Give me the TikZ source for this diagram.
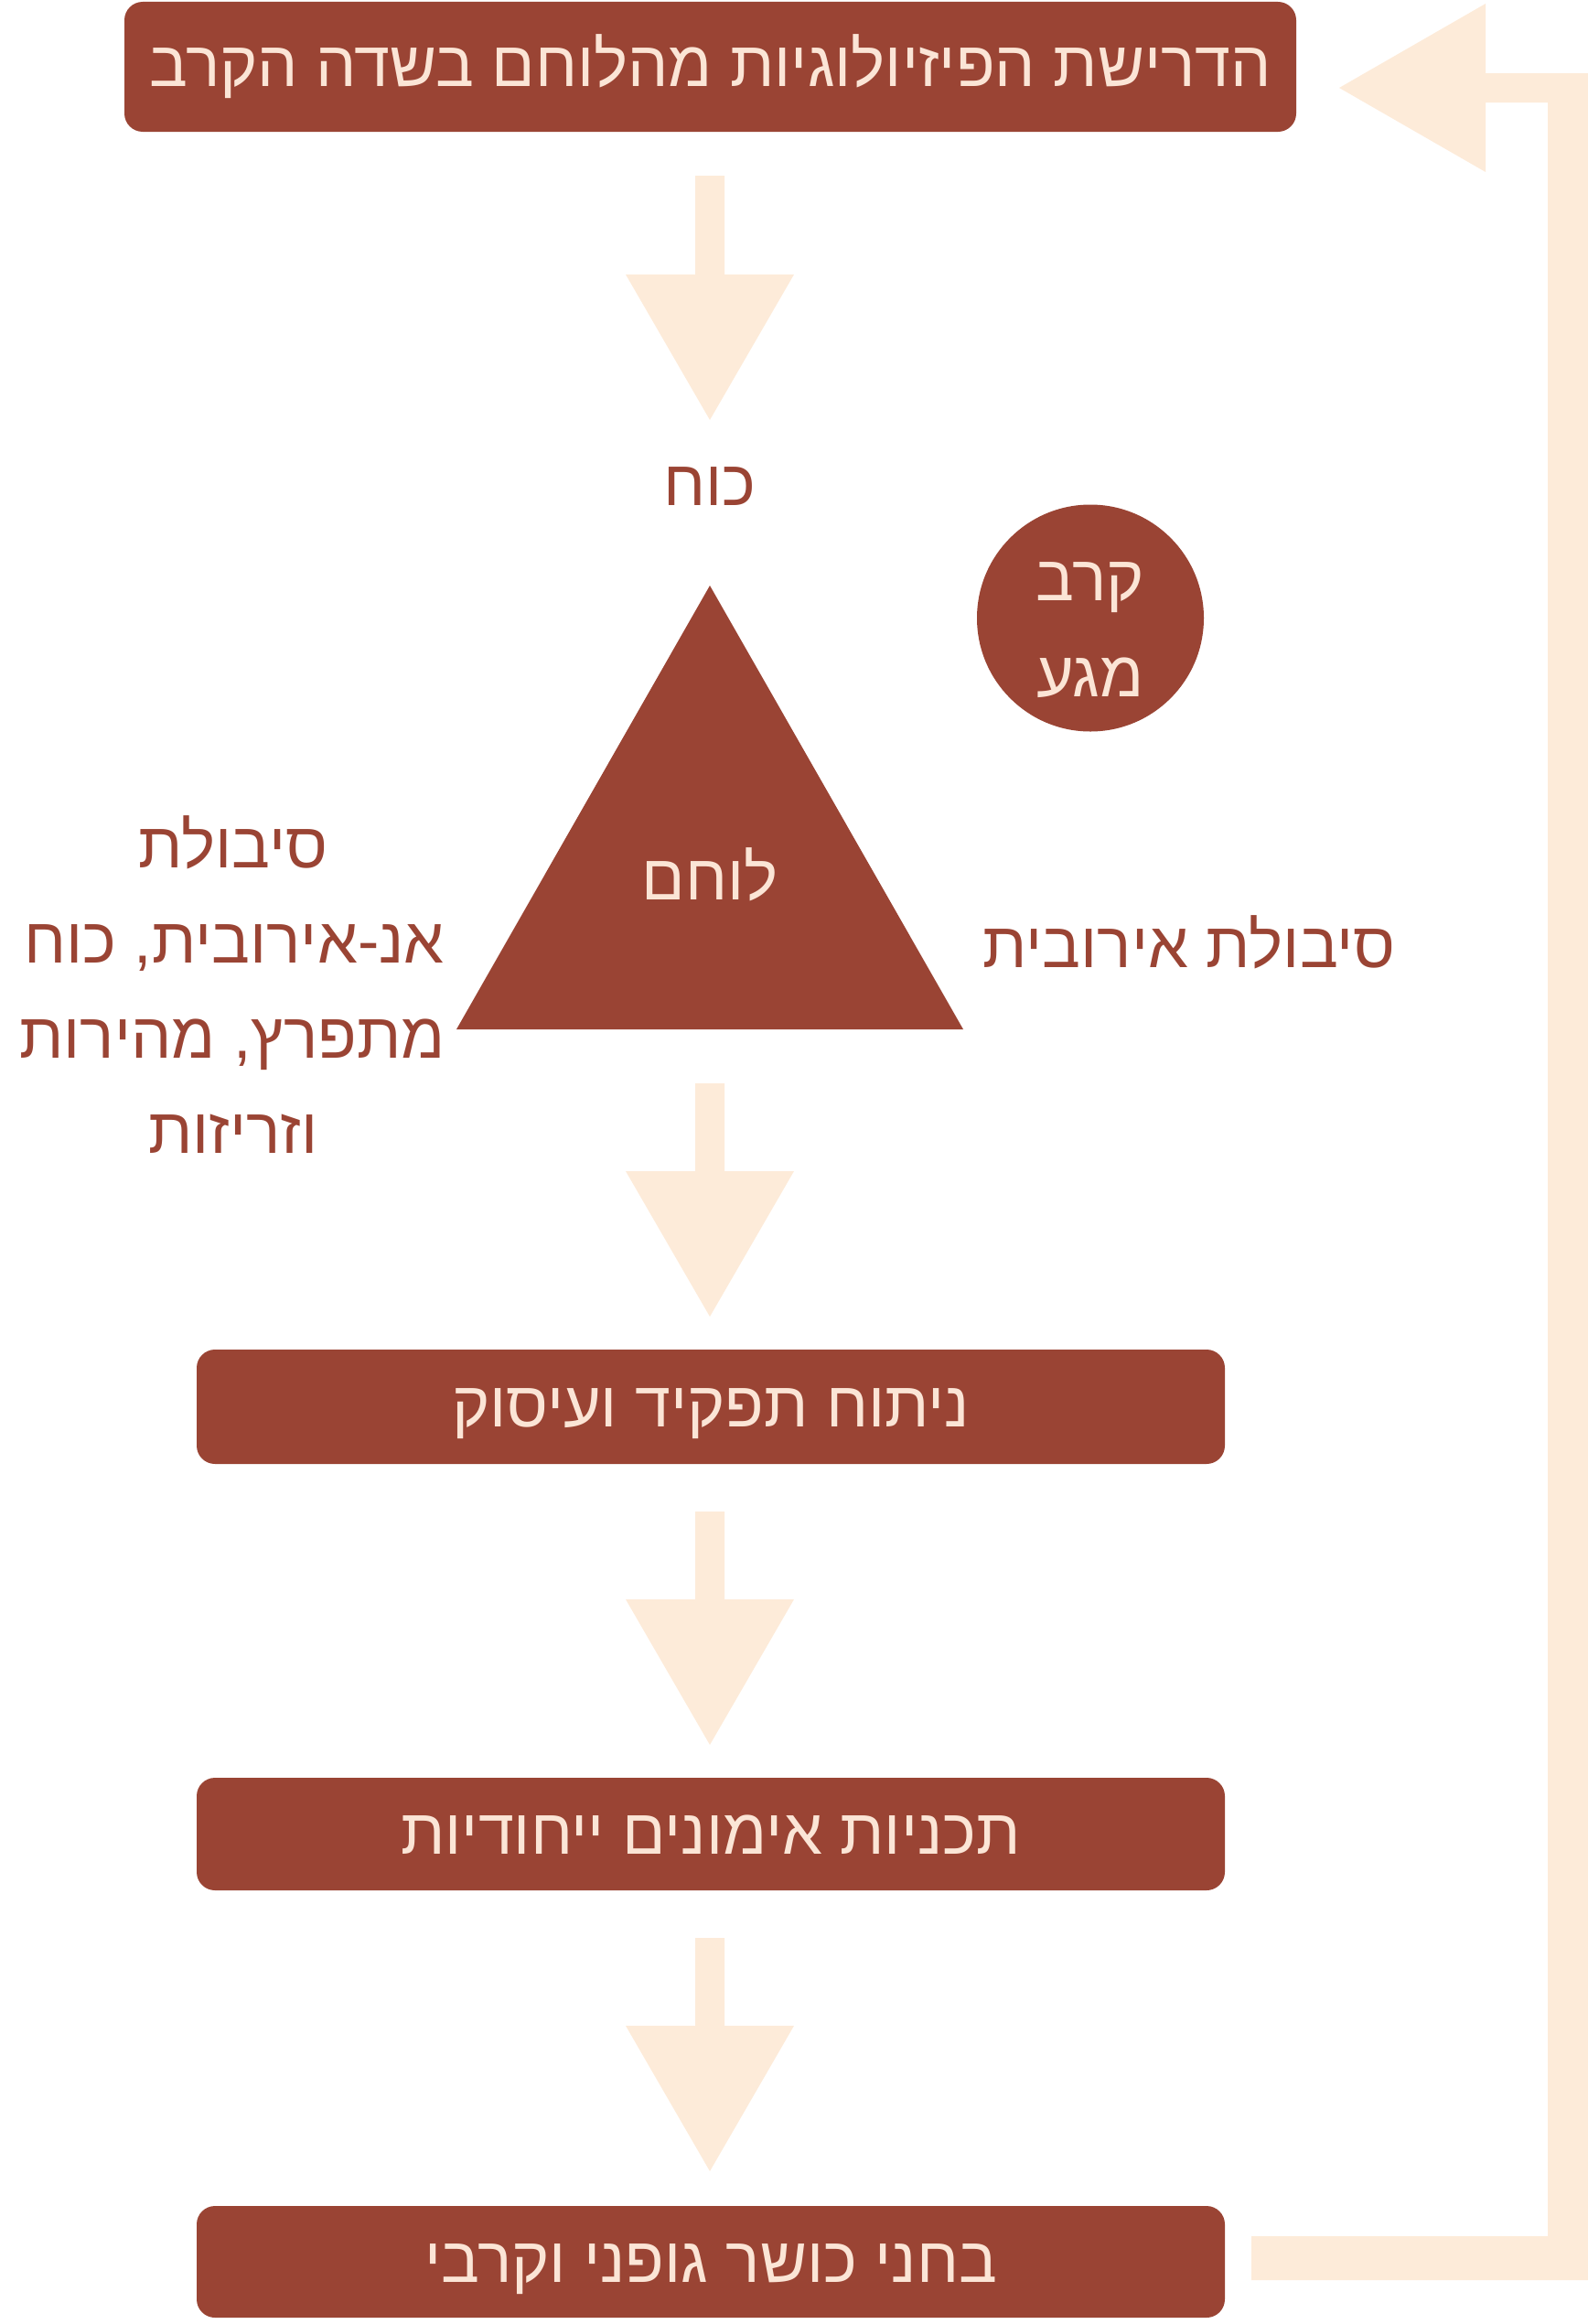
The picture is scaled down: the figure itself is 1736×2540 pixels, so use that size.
\documentclass[tikz,border=0pt]{standalone}
\usepackage{fontspec}
\newfontfamily\heb[Script=Hebrew]{Liberation Sans}
\TeXXeTstate=1
\definecolor{rust}{HTML}{9A4434}
\definecolor{peach}{HTML}{FDEBD9}
\definecolor{peachtxt}{HTML}{FBE5D6}
\newcommand{\hb}[1]{\beginR #1\endR}
\begin{document}
\begin{tikzpicture}[x=1pt,y=-1pt,
  hfont/.style={font=\heb\fontsize{70}{104}\selectfont},
  box/.style={rectangle, fill=rust, rounded corners=20pt, inner sep=0pt, hfont, text=peachtxt, text height=44pt, text depth=0pt},
  ltxt/.style={hfont, text=peachtxt, anchor=base, inner sep=0pt},
  dtxt/.style={hfont, text=rust, anchor=base, inner sep=0pt},
  flow/.style={fill=peach}]
\useasboundingbox (0,0) rectangle (1736,2540);

% boxes
\node[box, minimum width=1281pt, minimum height=142pt] (top) at (776.5,73) {\hb{הדרישת הפיזיולוגיות מהלוחם בשדה הקרב}};
\node[box, minimum width=1124pt, minimum height=125pt] (anal) at (777,1537.5) {\hb{ניתוח תפקיד ועיסוק}};
\node[box, minimum width=1124pt, minimum height=123pt] (prog) at (777,2004.5) {\hb{תכניות אימונים ייחודיות}};
\node[box, minimum width=1124pt, minimum height=122pt] (test) at (777,2472) {\hb{בחני כושר גופני וקרבי}};

% down block arrows
\foreach \s/\h/\t in {192/300/459, 1184/1280/1439, 1652/1748/1907, 2118/2214/2373}{
  \fill[flow] (760,\s) -- (792,\s) -- (792,\h) -- (868,\h) -- (776,\t) -- (684,\h) -- (760,\h) -- cycle;
}

% return arrow
\fill[flow] (1368,2444) -- (1692,2444) -- (1692,112) -- (1624,112) -- (1624,188) -- (1464,96)
  -- (1624,4) -- (1624,80) -- (1736,80) -- (1736,2492) -- (1368,2492) -- cycle;

% triangle
\coordinate (apex) at (776,640);
\coordinate (bl) at (499,1125);
\coordinate (br) at (1053,1125);
\fill[rust] (apex) -- (br) -- (bl) -- cycle;
\node[ltxt] (fighter) at (776,983) {\hb{לוחם}};

% labels
\node[dtxt] (power) at (776,552) {\hb{כוח}};
\node[dtxt] (aero) at (1300,1057) {\hb{סיבולת אירובית}};
\node[dtxt] (l1) at (255,948) {\hb{סיבולת}};
\node[dtxt] (l2) at (256,1052) {\hb{אנ-אירובית, כוח}};
\node[dtxt] (l3) at (254,1156) {\hb{מתפרץ, מהירות}};
\node[dtxt] (l4) at (255,1260) {\hb{וזריזות}};

% circle
\node[circle, fill=rust, minimum size=248pt, inner sep=0pt] (circ) at (1192,675.5) {};
\node[ltxt] (c1) at (1192,656) {\hb{קרב}};
\node[ltxt] (c2) at (1192,761) {\hb{מגע}};
\end{tikzpicture}
\end{document}
